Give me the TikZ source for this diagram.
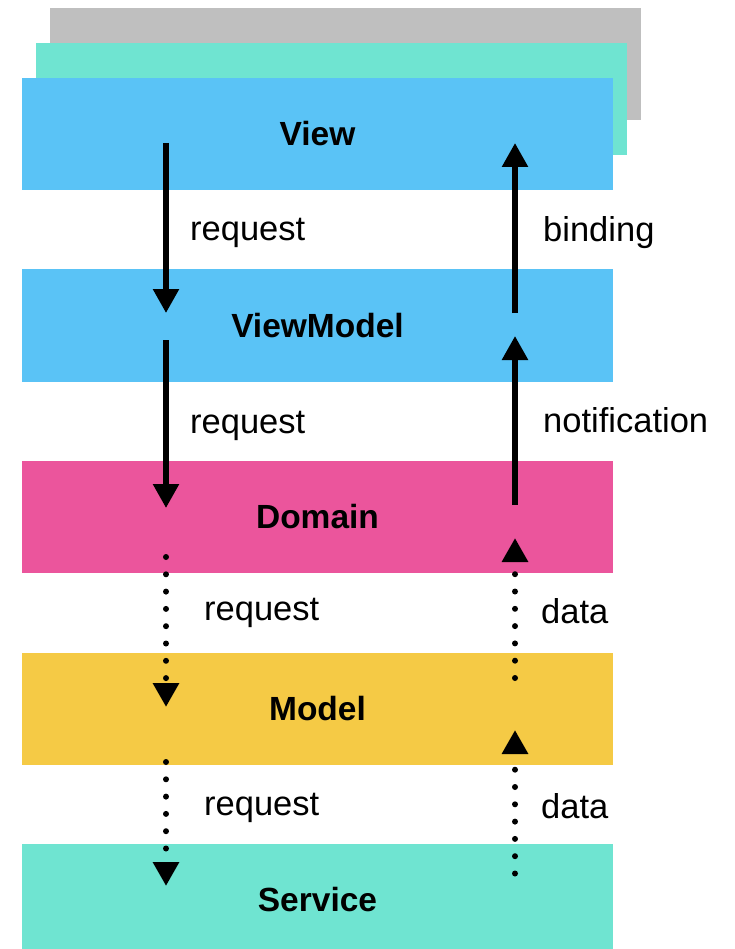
\documentclass[tikz,border=0pt]{standalone}
\usepackage{fontspec}
\setmainfont{Liberation Sans}
\usepackage{tikz}
\usetikzlibrary{arrows.meta,positioning,backgrounds}
\definecolor{viewblue}{HTML}{5AC3F6}
\definecolor{domainpink}{HTML}{EB559C}
\definecolor{modelyellow}{HTML}{F5CA45}
\definecolor{serviceteal}{HTML}{6FE4D1}
\definecolor{backgrey}{HTML}{BFBFBF}

\begin{document}
\begin{tikzpicture}[
  x=1pt,y=-1pt,
  layer/.style={minimum width=591pt,minimum height=112pt,inner sep=0pt,outer sep=0pt,
                font=\fontsize{33.5pt}{40pt}\selectfont\bfseries},
  lbl/.style={anchor=base west,inner sep=0pt,font=\fontsize{34.5pt}{40pt}\selectfont},
  arr/.style={-{Triangle[width=25pt,length=24pt]},line width=5.5pt},
  dots/.style={-{Triangle[width=25pt,length=24pt]},line width=6pt,line cap=round,
               dash pattern=on 0pt off 17.3pt}
]
\useasboundingbox (0,0) rectangle (734,949);
\node[layer,fill=viewblue] (view) at (317.5,134) {View};
\node[layer,fill=viewblue,below=79.5pt of view] (vm) {ViewModel};
\node[layer,fill=domainpink,below=79.5pt of vm] (dom) {Domain};
\node[layer,fill=modelyellow,below=79.5pt of dom] (mod) {Model};
\node[layer,fill=serviceteal,below=79.5pt of mod] (srv) {Service};
\begin{scope}[on background layer]
\node[layer,fill=backgrey] (back2) at ([xshift=28pt,yshift=70pt]view.center) {};
\node[layer,fill=serviceteal] (back1) at ([xshift=14pt,yshift=35pt]view.center) {};
\end{scope}
% down: requests
\draw[arr] ([xshift=-151.5pt,yshift=-9pt]view.center) -- ([xshift=-151.5pt,yshift=12.5pt]vm.center);
\draw[arr] ([xshift=-151.5pt,yshift=-14.5pt]vm.center) -- ([xshift=-151.5pt,yshift=9pt]dom.center);
\draw[dots] ([xshift=-151.5pt,yshift=-40pt]dom.center) -- ([xshift=-151.5pt,yshift=1.5pt]mod.center);
\draw[dots] ([xshift=-151.5pt,yshift=-53.5pt]mod.center) -- ([xshift=-151.5pt,yshift=14pt]srv.center);
% up: binding, notification, data
\draw[arr] ([xshift=197.5pt,yshift=12.5pt]vm.center) -- ([xshift=197.5pt,yshift=-9pt]view.center);
\draw[arr] ([xshift=197.5pt,yshift=12pt]dom.center) -- ([xshift=197.5pt,yshift=-10.5pt]vm.center);
\draw[dots] ([xshift=197.5pt,yshift=30.5pt]mod.center) -- ([xshift=197.5pt,yshift=-21pt]dom.center);
\draw[dots] ([xshift=197.5pt,yshift=26.5pt]srv.center) -- ([xshift=197.5pt,yshift=-21.5pt]mod.center);
% labels
\node[lbl] (req1) at (190,241) {request};
\node[lbl] (req2) at (190,433) {request};
\node[lbl] (req3) at (204,620) {request};
\node[lbl] (req4) at (204,815) {request};
\node[lbl] (bind) at (543,242) {binding};
\node[lbl] (note) at (543,432) {notification};
\node[lbl] (data1) at (541,623) {data};
\node[lbl] (data2) at (541,818) {data};
\end{tikzpicture}
\end{document}
